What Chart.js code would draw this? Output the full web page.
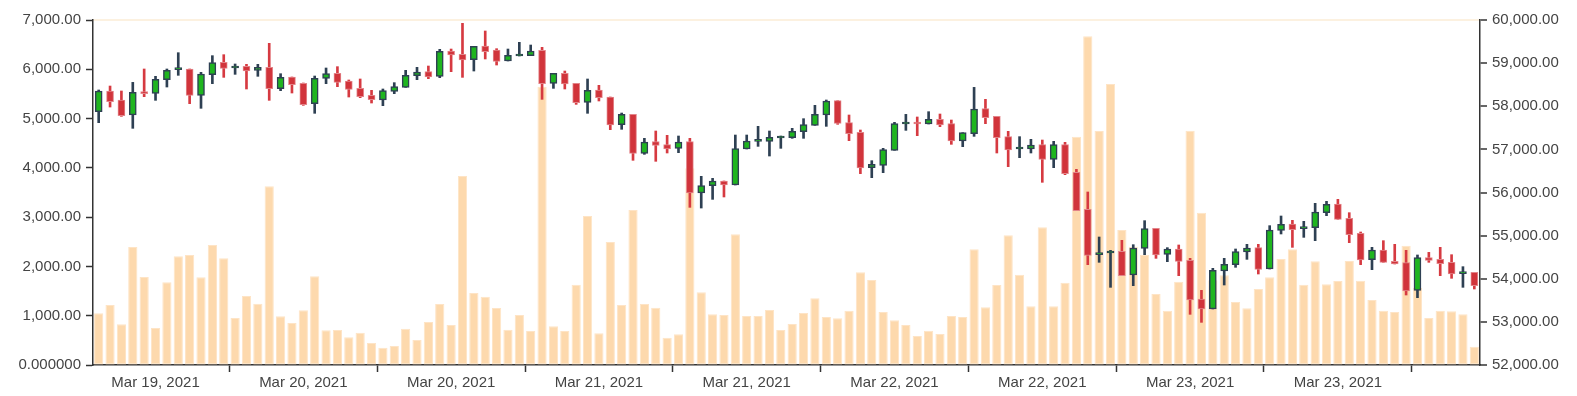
<!DOCTYPE html>
<html><head><meta charset="utf-8">
<script src="https://cdn.jsdelivr.net/npm/chart.js@4.4.0/dist/chart.umd.min.js"></script>
<style>html,body{margin:0;padding:0;background:#fff;}canvas{display:block;}</style>
</head><body>
<canvas id="c" width="1577" height="396"></canvas>
<script>
// ---- data ----
const tickLabels = ["Mar 19, 2021","Mar 20, 2021","Mar 20, 2021","Mar 21, 2021","Mar 21, 2021","Mar 22, 2021","Mar 22, 2021","Mar 23, 2021","Mar 23, 2021"];
const volume = [1049,1217,825,2394,1785,751,1677,2205,2232,1779,2435,2164,953,1400,1244,3625,987,852,1109,1799,703,710,562,656,446,352,385,737,507,872,1237,812,3835,1461,1386,1156,717,1014,690,5647,785,690,1630,3023,642,2495,1217,3145,1238,1163,555,622,3990,1474,1028,1014,2651,994,994,1116,710,832,1055,1353,974,947,1102,1880,1725,1075,906,812,588,697,629,994,974,2347,1170,1623,2631,1833,1190,2793,1190,1670,4633,6668,4748,5701,2739,2401,2232,1441,1102,1691,4754,3091,1718,1819,1278,1150,1542,1779,2151,2347,1630,2103,1637,1704,2110,1711,1319,1102,1075,2421,1569,954,1102,1089,1028,372];
const open  = [57874,58354,58145,57797,58330,58299,58616,58848,58864,58253,58732,59018,58887,58925,58833,58902,58408,58678,58531,58060,58647,58763,58585,58415,58253,58145,58346,58438,58709,58802,58694,59281,59204,59080,59397,59304,59049,59165,59173,59297,58531,58763,58531,58091,58377,58214,57573,57812,56908,57179,57109,57024,57179,55988,56158,56267,56174,57009,57186,57186,57264,57271,57411,57557,57797,58129,57619,57395,56576,56630,56978,57588,57604,57588,57697,57596,57194,57364,57944,57766,57295,57009,57009,57109,56769,57109,56468,55610,54558,54597,54636,54087,54705,55169,54566,54690,54427,53530,53299,54180,54327,54620,54721,54226,55123,55270,55161,55184,55532,55733,55401,55053,54442,54667,54404,54373,53731,54489,54450,54381,54118,54149];
const high  = [58377,58469,58354,58554,58864,58694,58864,59242,58864,58786,59173,59196,58980,58972,58972,59459,58755,58678,58539,58701,58887,58918,58609,58632,58369,58400,58547,58833,58902,58933,59320,59327,59923,59389,59745,59335,59327,59482,59420,59366,58763,58817,58531,58632,58485,58214,57843,57812,57256,57426,57326,57310,57256,56375,56328,56267,57333,57333,57534,57426,57310,57488,57712,58021,58145,58129,57797,57449,56738,57024,57627,57812,57751,57874,57820,57681,57387,58438,58160,57766,57418,57295,57233,57217,57186,57163,56537,56012,54968,54659,54891,54790,55347,55169,54721,54783,54473,53731,54242,54473,54690,54798,54798,55231,55455,55355,55331,55749,55795,55841,55532,55084,54728,54883,54798,54659,54551,54612,54728,54558,54280,54149];
const low   = [57619,57982,57766,57488,58222,58137,58446,58717,58060,57952,58524,58670,58740,58400,58694,58137,58361,58307,58021,57836,58524,58454,58214,58199,58075,58013,58292,58438,58616,58640,58663,58802,58670,58817,59096,58956,59049,59165,59173,58160,58415,58400,58044,57836,58122,57457,57465,56746,56885,56723,56916,56924,55656,55640,55841,55896,56174,57009,57070,56846,57024,57256,57256,57557,57534,57581,57202,56437,56344,56460,56978,57441,57318,57588,57527,57117,57063,57302,57596,56916,56599,56808,56916,56236,56576,56413,55579,54327,54381,53801,54071,53840,54558,54473,54396,54071,53175,52989,53299,53855,54265,54450,54110,54226,55038,54728,54960,54883,55463,55378,54837,54327,54211,54381,54342,53623,53561,54381,54071,54010,53801,53762];
const close = [58354,58106,57782,58322,58292,58624,58833,58864,58253,58748,59011,58879,58918,58817,58902,58408,58670,58500,58037,58647,58755,58554,58392,58222,58153,58361,58454,58717,58794,58678,59273,59188,59072,59389,59266,59041,59181,59181,59281,58524,58763,58516,58083,58369,58199,57565,57812,56908,57171,57094,57009,57171,55988,56158,56267,56174,57016,57194,57210,57279,57279,57418,57573,57812,58122,57604,57364,56568,56653,56993,57596,57604,57588,57697,57565,57194,57387,57936,57735,57271,56985,57024,57101,56769,57109,56437,55579,54543,54589,54628,54071,54713,55161,54551,54690,54404,53507,53299,54195,54334,54628,54713,54218,55130,55262,55138,55192,55548,55726,55378,55022,54435,54667,54381,54342,53716,54489,54427,54350,54110,54141,53840];
const categories = volume.map((_, i) => 'P' + (i + 1));
const LABEL_FIRST = 5, TICK_FIRST = 12, PERIOD = 13;

// ---- styles ----
const UP_FILL = '#1fb51f', UP_LINE = '#2e4053';
const DN_FILL = '#d1343b', DN_LINE = '#e3858a', DN_WICK = '#d63a41';
const AXIS = '#333333';
const isUp = i => close[i] >= open[i];

Chart.defaults.font.family = '"Liberation Sans", Arial, Helvetica, sans-serif';
Chart.defaults.font.size = 15;
Chart.defaults.color = '#444444';

const fmt = v => v === 0 ? '0.000000' : v.toLocaleString('en-US', {minimumFractionDigits: 2, maximumFractionDigits: 2});

new Chart(document.getElementById('c'), {
  type: 'bar',
  data: {
    labels: categories,
    datasets: [
      {
        label: 'body', yAxisID: 'y1', order: 1, grouped: false,
        data: open.map((o, i) => [o, close[i]]),
        barThickness: 7, minBarLength: 2, borderSkipped: false,
        backgroundColor: ctx => isUp(ctx.dataIndex) ? UP_FILL : DN_FILL,
        borderColor: ctx => isUp(ctx.dataIndex) ? UP_LINE : DN_LINE,
        borderWidth: ctx => isUp(ctx.dataIndex) ? 1.5 : 1
      },
      {
        label: 'wick', yAxisID: 'y1', order: 2, grouped: false,
        data: low.map((l, i) => [l, high[i]]),
        barThickness: 2, borderWidth: 0,
        backgroundColor: ctx => isUp(ctx.dataIndex) ? UP_LINE : DN_WICK
      },
      {
        label: 'volume', yAxisID: 'y', order: 3, grouped: false,
        data: volume,
        barPercentage: 0.81, categoryPercentage: 1,
        backgroundColor: '#fdd9ad', borderColor: '#fee4c6', borderWidth: 1, borderSkipped: false
      }
    ]
  },
  options: {
    responsive: false, animation: false,
    layout: { padding: { top: 20, left: 0, right: 0, bottom: 0 } },
    plugins: { legend: { display: false }, tooltip: { enabled: false } },
    scales: {
      x: {
        offset: true,
        grid: {
          offset: true, drawOnChartArea: false, drawTicks: true, tickLength: 7,
          color: 'transparent',
          tickColor: ctx => (ctx.index >= TICK_FIRST && (ctx.index - TICK_FIRST) % PERIOD === 0) ? AXIS : 'transparent',
          tickWidth: 1.5
        },
        border: { display: true, color: AXIS, width: 1.5 },
        ticks: {
          autoSkip: false, maxRotation: 0, minRotation: 0, padding: 2,
          callback: (v, i) => (i >= LABEL_FIRST && (i - LABEL_FIRST) % PERIOD === 0) ? (tickLabels[(i - LABEL_FIRST) / PERIOD] || '') : ''
        },
        afterFit: s => { s.height = 31; }
      },
      y: {
        position: 'left', min: 0, max: 7000,
        grid: { drawOnChartArea: false, tickLength: 7, tickColor: AXIS, tickWidth: 1.5 },
        border: { display: true, color: AXIS, width: 1.5 },
        ticks: { stepSize: 1000, padding: 5, callback: v => fmt(v) },
        afterFit: s => { s.width = 93; }
      },
      y1: {
        position: 'right', min: 52000, max: 60000,
        grid: {
          drawOnChartArea: true, tickLength: 7, tickColor: AXIS, tickWidth: 1.5,
          color: ctx => (ctx.tick && ctx.tick.value === 60000) ? '#fcf1e0' : 'transparent',
          lineWidth: 2
        },
        border: { display: true, color: AXIS, width: 1.5 },
        ticks: { stepSize: 1000, padding: 5, callback: v => fmt(v) },
        afterFit: s => { s.width = 97; }
      }
    }
  }
});
</script>
</body></html>
